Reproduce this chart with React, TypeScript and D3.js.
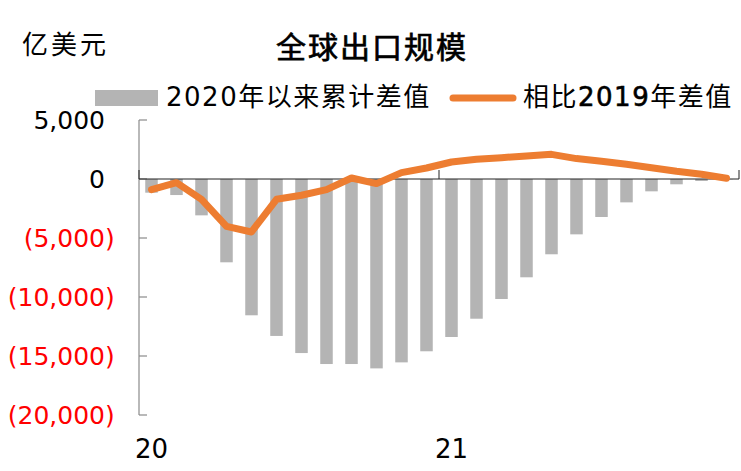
import React, { useEffect, useRef } from 'react';
import * as d3 from 'd3';

// months, 2020-01 .. 2021-12
const months = [
  '2020-01', '2020-02', '2020-03', '2020-04', '2020-05', '2020-06',
  '2020-07', '2020-08', '2020-09', '2020-10', '2020-11', '2020-12',
  '2021-01', '2021-02', '2021-03', '2021-04', '2021-05', '2021-06',
  '2021-07', '2021-08', '2021-09', '2021-10', '2021-11', '2021-12',
];
// 2020年以来累计差值 (亿美元)
const cumulativeDiff = [
  -1160, -1360, -3080, -7060, -11550, -13300, -14750, -15680, -15680, -16050, -15540, -14600,
  -13390, -11840, -10170, -8330, -6380, -4690, -3220, -1980, -1045, -450, -170, -30,
];
// 相比2019年差值 (亿美元)
const diffVs2019 = [
  -900, -310, -1720, -4010, -4490, -1720, -1380, -900, 85, -390, 540, 930,
  1440, 1670, 1810, 1950, 2090, 1730, 1500, 1250, 960, 650, 400, 60,
];
const yTicks = [5000, 0, -5000, -10000, -15000, -20000];
const xLabels = [
  { month: '2020-01', label: '20' },
  { month: '2021-01', label: '21' },
];

const W = 741, H = 471;
const NUM_FONT = '"DejaVu Sans", "Noto Sans CJK SC", sans-serif';
const CJK_FONT = '"Noto Sans CJK SC", "DejaVu Sans", sans-serif';

export default function App() {
  const ref = useRef<SVGSVGElement>(null);

  useEffect(() => {
    document.body.style.margin = '0';
    const svg = d3.select(ref.current);
    svg.selectAll('*').remove();

    const x = d3.scaleBand().domain(months).range([139, 739]).paddingInner(0.5).paddingOuter(0.25);
    const y = d3.scaleLinear().domain([-20000, 5000]).range([415, 120]);
    const cx = (m: string) => (x(m) as number) + x.bandwidth() / 2;

    // bars
    svg.append('g').selectAll('rect')
      .data(months)
      .join('rect')
      .attr('x', d => x(d) as number)
      .attr('width', x.bandwidth())
      .attr('y', y(0))
      .attr('height', (d, i) => y(cumulativeDiff[i]) - y(0))
      .attr('fill', '#b4b4b4');

    // y axis (ticks inside)
    const yAxis = svg.append('g').attr('stroke', '#8a8a8a').attr('stroke-width', 1.2);
    yAxis.append('line')
      .attr('x1', 139).attr('x2', 139)
      .attr('y1', y(5000)).attr('y2', y(-20000));
    yAxis.selectAll('.tk').data(yTicks).join('line')
      .attr('class', 'tk')
      .attr('x1', 139).attr('x2', 147)
      .attr('y1', d => y(d)).attr('y2', d => y(d));

    const fmt = d3.format(',');
    svg.append('g').selectAll('text')
      .data(yTicks)
      .join('text')
      .attr('x', 105)
      .attr('y', d => y(d))
      .attr('dy', '0.36em')
      .attr('text-anchor', 'end')
      .attr('font-family', NUM_FONT)
      .attr('font-size', 25)
      .attr('fill', d => (d < 0 ? '#ff0000' : '#000'))
      .text(d => (d < 0 ? '(' + fmt(-d) : fmt(d)));
    svg.append('g').selectAll('text')
      .data(yTicks.filter(d => d < 0))
      .join('text')
      .attr('x', 105)
      .attr('y', d => y(d))
      .attr('dy', '0.36em')
      .attr('font-family', NUM_FONT)
      .attr('font-size', 25)
      .attr('fill', '#ff0000')
      .text(')');

    // x axis on zero line, ticks every 12 months
    const [x0, x1] = x.range();
    const xAxis = svg.append('g').attr('stroke', '#222').attr('stroke-width', 1);
    xAxis.append('line').attr('x1', x0).attr('x2', x1).attr('y1', y(0)).attr('y2', y(0));
    xAxis.selectAll('.xt').data([0, 12, 24]).join('line')
      .attr('class', 'xt')
      .attr('x1', i => x0 + i * x.step()).attr('x2', i => x0 + i * x.step())
      .attr('y1', y(0)).attr('y2', y(0) - 9);

    svg.append('g').selectAll('text')
      .data(xLabels)
      .join('text')
      .attr('x', d => cx(d.month))
      .attr('y', 458)
      .attr('text-anchor', 'middle')
      .attr('font-family', NUM_FONT)
      .attr('font-size', 26)
      .text(d => d.label);

    // line
    const line = d3.line<number>()
      .x((d, i) => cx(months[i]))
      .y(d => y(d));
    svg.append('path')
      .datum(diffVs2019)
      .attr('d', line)
      .attr('fill', 'none')
      .attr('stroke', '#ed7d31')
      .attr('stroke-width', 7)
      .attr('stroke-linejoin', 'round')
      .attr('stroke-linecap', 'round');

    // unit + title
    svg.append('text')
      .attr('x', 22).attr('y', 54)
      .attr('font-family', CJK_FONT)
      .attr('font-size', 26)
      .attr('letter-spacing', 3)
      .text('亿美元');
    svg.append('text')
      .attr('x', 372).attr('y', 58)
      .attr('text-anchor', 'middle')
      .attr('font-family', CJK_FONT)
      .attr('font-size', 30)
      .attr('stroke', '#000')
      .attr('stroke-width', 0.7)
      .attr('letter-spacing', 2)
      .text('全球出口规模');

    // legend
    const lg = svg.append('g');
    lg.append('rect').attr('x', 95).attr('y', 90).attr('width', 63).attr('height', 16).attr('fill', '#b4b4b4');
    lg.append('text')
      .attr('x', 166).attr('y', 106)
      .attr('font-family', NUM_FONT)
      .attr('font-size', 26)
      .attr('letter-spacing', 1.5)
      .text('2020年以来累计差值');
    lg.append('line')
      .attr('x1', 453).attr('x2', 513).attr('y1', 98).attr('y2', 98)
      .attr('stroke', '#ed7d31').attr('stroke-width', 7).attr('stroke-linecap', 'round');
    const t2 = lg.append('text')
      .attr('x', 523).attr('y', 106)
      .attr('font-family', NUM_FONT)
      .attr('font-size', 26)
      .attr('letter-spacing', 1.5);
    t2.append('tspan').text('相比');
    t2.append('tspan').attr('stroke', '#000').attr('stroke-width', 0.6).text('2019');
    t2.append('tspan').text('年差值');
  }, []);

  return <svg ref={ref} width={W} height={H} style={{ display: 'block', background: '#fff' }} />;
}
